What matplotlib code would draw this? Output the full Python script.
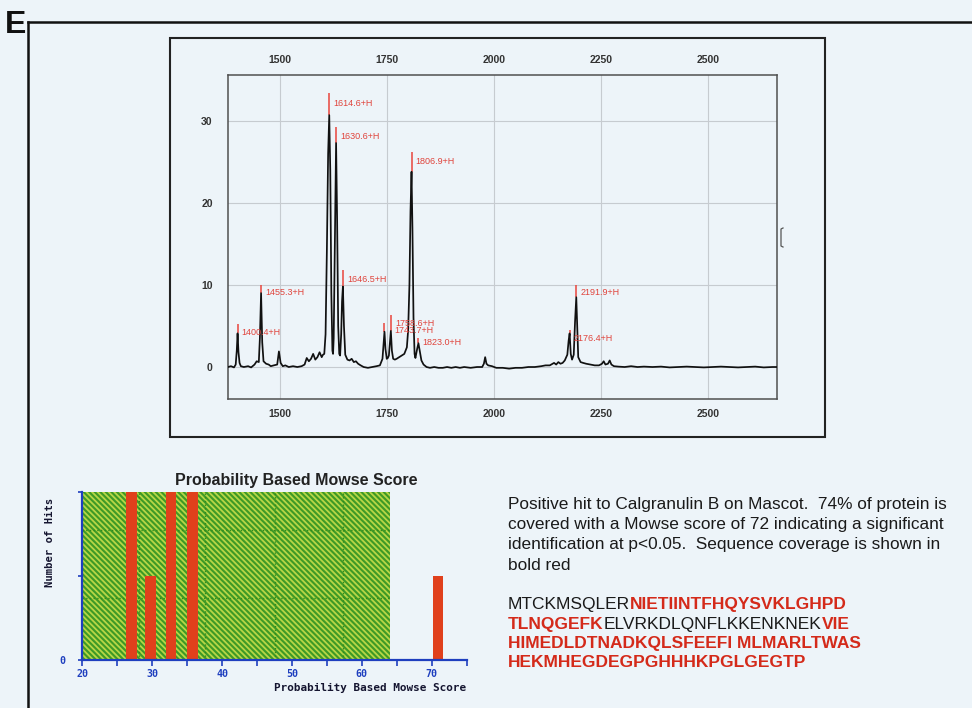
import matplotlib
matplotlib.use("Agg")
import matplotlib.pyplot as plt
import numpy as np
from matplotlib.lines import Line2D
from matplotlib.patches import Rectangle

plt.rcParams['font.family'] = ['Liberation Sans', 'DejaVu Sans']
plt.rcParams['hatch.linewidth'] = 1.3

W, H = 972, 708
BG = '#edf4f9'

# ---------------- MALDI spectrum ----------------
trace_mz = [1378, 1385, 1392, 1396, 1398.5, 1400.4, 1402.5, 1405, 1408, 1415, 1425, 1432,
            1440, 1445, 1450, 1452.5, 1455.3, 1458, 1461, 1467, 1473, 1478, 1485, 1493,
            1497, 1501, 1506, 1512, 1520, 1530, 1540, 1550, 1557, 1562, 1567, 1572, 1577,
            1582, 1587, 1592, 1597, 1600, 1603, 1606, 1609, 1612, 1614.6, 1617, 1619.5,
            1622, 1623.5, 1625, 1627.5, 1630.6, 1633, 1635.5, 1638, 1640, 1642.5, 1644.5,
            1646.5, 1649, 1652, 1657, 1662, 1667, 1672, 1677, 1682, 1688, 1695, 1705, 1715,
            1725, 1733, 1739, 1741.5, 1743.7, 1746, 1749, 1751.5, 1754, 1756.5, 1758.6,
            1761, 1764, 1768, 1772, 1778, 1784, 1790, 1796, 1799, 1802, 1804.5, 1806.9,
            1809, 1811.5, 1814, 1816, 1820, 1823.0, 1826, 1830, 1835, 1842, 1850, 1860,
            1870, 1880, 1890, 1900, 1910, 1920, 1930, 1945, 1960, 1972, 1976, 1979, 1982,
            1986, 1995, 2005, 2020, 2035, 2050, 2065, 2080, 2095, 2110, 2120, 2130, 2140,
            2145, 2150, 2155, 2160, 2165, 2171, 2174, 2176.4, 2179, 2182, 2186, 2189,
            2191.9, 2194, 2196.5, 2202, 2208, 2215, 2225, 2235, 2245, 2252, 2256, 2260,
            2266, 2270, 2274, 2280, 2290, 2305, 2320, 2335, 2350, 2370, 2390, 2410, 2430,
            2450, 2470, 2490, 2510, 2530, 2550, 2570, 2590, 2610, 2630, 2650, 2661]
trace_int = [0.0, 0.1, -0.05, 0.3, 2.0, 4.1, 1.8, 0.5, 0.1, 0.0, 0.1, -0.05,
             0.3, 0.7, 0.6, 3.5, 9.0, 3.0, 0.7, 0.4, 0.3, 0.1, 0.2, 0.3,
             1.9, 0.5, 0.1, 0.2, 0.0, 0.1, 0.0, 0.1, 0.3, 1.1, 0.7, 1.0, 1.6,
             0.9, 1.2, 1.8, 1.2, 1.5, 1.6, 4.0, 14.0, 26.0, 30.7, 24.0, 9.0,
             2.0, 1.6, 3.5, 14.0, 27.3, 18.0, 5.0, 1.6, 1.4, 4.0, 8.0,
             9.8, 5.0, 1.5, 0.9, 0.8, 1.0, 0.6, 0.7, 0.4, 0.2, 0.0, -0.1, 0.0,
             0.1, 0.2, 1.0, 2.8, 4.3, 2.2, 1.0, 1.1, 1.4, 3.0, 4.4,
             2.0, 1.0, 0.9, 1.0, 1.2, 1.4, 1.6, 2.4, 4.5, 10.0, 19.0, 23.8,
             17.0, 6.0, 1.6, 1.1, 2.2, 2.9, 2.0, 0.8, 0.3, 0.0, -0.1, 0.0,
             -0.1, -0.1, 0.0, -0.1, 0.0, -0.1, 0.0, -0.1, 0.0, 0.0, 0.4, 1.2, 0.4,
             0.2, 0.1, -0.1, -0.1, -0.2, -0.1, -0.1, 0.0, 0.0, 0.1, 0.2, 0.2, 0.5,
             0.3, 0.6, 0.4, 0.5, 0.8, 1.5, 3.2, 4.1, 1.6, 0.9, 1.5, 5.5,
             8.5, 5.0, 1.2, 0.6, 0.5, 0.4, 0.3, 0.2, 0.2, 0.4, 0.7, 0.3,
             0.4, 0.8, 0.3, 0.1, 0.05, 0.0, 0.1, 0.0, 0.05, 0.0, 0.05, -0.05, 0.0,
             0.05, 0.0, -0.05, 0.0, 0.05, 0.0, -0.05, 0.0, 0.05, -0.05, 0.0, 0.0]

peak_mz = [1400.4, 1455.3, 1614.6, 1630.6, 1646.5, 1743.7, 1758.6, 1806.9, 1823.0, 2176.4, 2191.9]
peak_stick = [5.3, 10.0, 33.4, 29.3, 11.8, 5.4, 6.3, 26.2, 3.5, 4.5, 10.0]
peak_labels = [f"{m:.1f}+H" for m in peak_mz]

mz_ticks = [1500, 1750, 2000, 2250, 2500]
int_ticks = [0, 10, 20, 30]

# label placement (pixels from top of each stick)
label_dx = [4, 4, 4, 4, 4, 10, 4, 4, 4, 4, 4]
label_dy = [-9, -8, -10, -10, -9, -8, -8, -9, -4, -8, -8]

# ---------------- Mowse score histogram ----------------
score_bins = [27.0, 29.7, 32.7, 35.8, 70.9]
hits = [2, 1, 2, 2, 1]
bar_width = 1.55
random_start, random_end = 20, 64
score_ticks = list(range(20, 80, 5))
grid_x = [28.1, 37.5, 47.5, 57.3]
grid_y = [0.74, 1.55]

# ---------------- Text block ----------------
summary_lines = [
    "Positive hit to Calgranulin B on Mascot.  74% of protein is",
    "covered with a Mowse score of 72 indicating a significant",
    "identification at p<0.05.  Sequence coverage is shown in",
    "bold red",
]
# (segment, covered) pairs per line of the protein sequence
sequence_lines = [
    [("MTCKMSQLER", False), ("NIETIINTFHQYSVKLGHPD", True)],
    [("TLNQGEFK", True), ("ELVRKDLQNFLKKENKNEK", False), ("VIE", True)],
    [("HIMEDLDTNADKQLSFEEFI MLMARLTWAS", True)],
    [("HEKMHEGDEGPGHHHKPGLGEGTP", True)],
]


def fx(px):
    return px / W


def fy(py):
    return 1 - py / H


fig = plt.figure(figsize=(W / 100, H / 100), dpi=100, facecolor=BG)

# panel frame and letter
fig.add_artist(Line2D([fx(28), fx(28)], [fy(22), 0], color='#111111', lw=1.8))
fig.add_artist(Line2D([fx(28), 1], [fy(22), fy(22)], color='#111111', lw=1.8))
fig.text(fx(5), fy(33), "E", fontsize=23, fontweight='bold', color='#111111',
         ha='left', va='baseline')

# outer box round the spectrum
fig.add_artist(Rectangle((fx(170), fy(437)), (825 - 170) / W, (437 - 38) / H,
                         transform=fig.transFigure, fill=False,
                         edgecolor='#222222', lw=1.5))
fig.add_artist(Line2D([fx(783), fx(781), fx(781), fx(783)],
                      [fy(228), fy(229), fy(246), fy(247)], color='#555555', lw=0.9))

ax = fig.add_axes([fx(228), fy(399), (777 - 228) / W, (399 - 75) / H])
ax.set_facecolor(BG)
ax.set_xlim(1378, 2661)
ax.set_ylim(-3.9, 35.6)
ax.set_xticks(mz_ticks)
ax.set_yticks(int_ticks)
ax.grid(True, color='#c6cbd0', lw=0.8)
ax.set_axisbelow(True)
ax.tick_params(axis='x', top=True, labeltop=True, bottom=True, labelbottom=True,
               length=0, pad=7.2, labelsize=7.5, labelcolor='#333333')
ax.tick_params(axis='y', length=0, pad=11, labelsize=7.5, labelcolor='#333333')
for lab in ax.get_xticklabels() + ax.get_yticklabels():
    lab.set_fontweight('bold')
for sp in ax.spines.values():
    sp.set_color('#505050')
    sp.set_linewidth(1.1)

stick_base = np.interp(peak_mz, trace_mz, trace_int)
ax.vlines(peak_mz, stick_base, peak_stick, color='#e8453c', lw=1.1, zorder=2)
ax.plot(trace_mz, trace_int, color='#111111', lw=1.25, zorder=3,
        solid_joinstyle='round')
for m, h, lab, dx, dy in zip(peak_mz, peak_stick, peak_labels, label_dx, label_dy):
    ax.annotate(lab, xy=(m, h), xytext=(dx, dy), textcoords='offset pixels',
                ha='left', va='center', fontsize=6.5, color='#e0443c', zorder=4)

# ---------------- histogram ----------------
BLUE = '#1f3fbf'
fig.text(fx(296), fy(481), "Probability Based Mowse Score", fontsize=11.5,
         fontweight='bold', color='#222222', ha='center', va='center')

hx = fig.add_axes([fx(82.3), fy(660), (466.7 - 82.3) / W, (660 - 492.3) / H])
hx.set_facecolor(BG)
hx.set_xlim(20, 75)
hx.set_ylim(0, max(hits))
hx.bar([random_start], [max(hits)], width=random_end - random_start, align='edge',
       color='#3e9a26', edgecolor='#b8d646', lw=0, hatch='\\\\\\\\\\\\', zorder=1)
for gx in grid_x:
    hx.plot([gx, gx], [0, max(hits)], color='#2f8a1c', lw=1.0, ls=':', zorder=1.5)
for gy in grid_y:
    hx.plot([random_start, random_end], [gy, gy], color='#2f8a1c', lw=1.0, ls=':', zorder=1.5)
hx.bar(score_bins, hits, width=bar_width, color='#e0401c', lw=0, zorder=2)

for side in ('top', 'right'):
    hx.spines[side].set_visible(False)
for side in ('left', 'bottom'):
    hx.spines[side].set_color(BLUE)
    hx.spines[side].set_linewidth(1.6)
    hx.spines[side].set_zorder(3)

mono = ['DejaVu Sans Mono']
hx.set_xticks(score_ticks)
hx.set_xticklabels([str(t) if t % 10 == 0 and t < 75 else '' for t in score_ticks],
                   fontfamily=mono, fontweight='bold', fontsize=7.2, color=BLUE)
hx.set_yticks([0, 1, 2])
hx.set_yticklabels(['0', '', ''], fontfamily=mono, fontweight='bold', fontsize=7.2,
                   color=BLUE)
hx.tick_params(axis='x', direction='out', length=4, width=1.2, color=BLUE, pad=2.5)
hx.tick_params(axis='y', direction='out', length=3, width=1.2, color=BLUE, pad=9)

fig.text(fx(466), fy(688), "Probability Based Mowse Score", fontfamily=mono,
         fontweight='bold', fontsize=7.9, color='#151530', ha='right', va='center')
fig.text(fx(50), fy(542), "Number of Hits", fontfamily=mono, fontweight='bold',
         fontsize=7.6, color='#151530', ha='center', va='center', rotation=90)

# ---------------- text block ----------------
for i, line in enumerate(summary_lines):
    fig.text(fx(508), fy(505 + 20 * i), line, fontsize=12.4, color='#1a1a1a',
             ha='left', va='center')

renderer = fig.canvas.get_renderer()
for i, segs in enumerate(sequence_lines):
    x_px = 508.0
    for seg, covered in segs:
        t = fig.text(fx(x_px), fy(605 + 19.3 * i), seg, fontsize=12.5,
                     color='#d42a1a' if covered else '#1a1a1a',
                     fontweight='bold' if covered else 'normal',
                     va='center', ha='left')
        x_px += t.get_window_extent(renderer).width

fig.savefig("out.png", dpi=100, facecolor=BG)
